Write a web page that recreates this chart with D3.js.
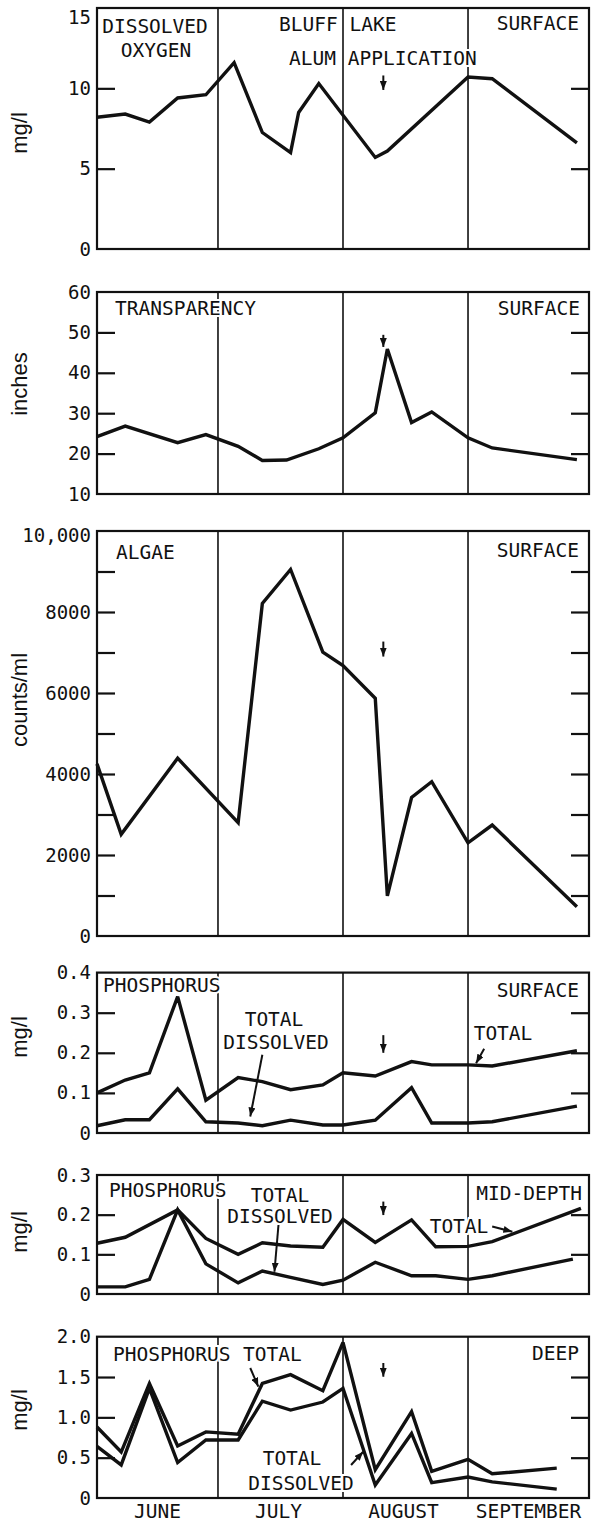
<!DOCTYPE html>
<html><head><meta charset="utf-8">
<script src="https://cdn.jsdelivr.net/npm/d3@7"></script>
<style>body{margin:0;background:#fff}</style>
</head><body>
<svg id="c" width="591" height="1524"></svg>
<script>
// ---------------- DATA ----------------
const months = ["JUNE", "JULY", "AUGUST", "SEPTEMBER"];
const monthMid = ["Jun 16", "Jul 16", "Aug 16", "Sep 16"];
const monthStarts = ["Jul 1", "Aug 1", "Sep 1"];
const alumDate = "Aug 11";

// Dissolved oxygen, surface (mg/l)
const doDates  = ["Jun 1","Jun 8","Jun 14","Jun 21","Jun 28","Jul 5","Jul 12","Jul 19","Jul 21","Jul 26","Aug 9","Aug 12","Sep 1","Sep 7","Sep 28"];
const doValues = [8.2, 8.4, 7.9, 9.4, 9.6, 11.6, 7.25, 6.0, 8.5, 10.3, 5.7, 6.1, 10.7, 10.6, 6.6];

// Transparency, surface (inches)
const trDates  = ["Jun 1","Jun 8","Jun 21","Jun 28","Jul 6","Jul 12","Jul 18","Jul 26","Aug 1","Aug 9","Aug 12","Aug 18","Aug 23","Sep 1","Sep 7","Sep 28"];
const trValues = [24.2, 26.8, 22.7, 24.7, 21.8, 18.3, 18.4, 21.2, 23.9, 30.1, 45.9, 27.7, 30.3, 23.9, 21.4, 18.5];

// Algae, surface (counts/ml)
const alDates  = ["Jun 1","Jun 7","Jun 21","Jul 6","Jul 12","Jul 19","Jul 27","Aug 1","Aug 9","Aug 12","Aug 18","Aug 23","Sep 1","Sep 7","Sep 28"];
const alValues = [4250, 2510, 4390, 2800, 8210, 9050, 7010, 6680, 5870, 990, 3420, 3810, 2300, 2740, 720];

// Phosphorus, surface (mg/l)
const psDates     = ["Jun 1","Jun 8","Jun 14","Jun 21","Jun 28","Jul 6","Jul 12","Jul 19","Jul 27","Aug 1","Aug 9","Aug 18","Aug 23","Sep 1","Sep 7","Sep 28"];
const psTotal     = [0.100, 0.132, 0.150, 0.340, 0.082, 0.138, 0.128, 0.108, 0.120, 0.150, 0.142, 0.178, 0.170, 0.170, 0.167, 0.205];
const psDissolved = [0.018, 0.033, 0.033, 0.110, 0.028, 0.025, 0.018, 0.032, 0.020, 0.020, 0.032, 0.113, 0.025, 0.025, 0.028, 0.067];

// Phosphorus, mid-depth (mg/l)
const pmTotalDates = ["Jun 1","Jun 8","Jun 21","Jun 28","Jul 6","Jul 12","Jul 19","Jul 27","Aug 1","Aug 9","Aug 18","Aug 24","Sep 1","Sep 7","Sep 29"];
const pmTotal      = [0.128, 0.143, 0.212, 0.140, 0.100, 0.129, 0.121, 0.118, 0.188, 0.130, 0.187, 0.119, 0.120, 0.132, 0.216];
const pmDissDates  = ["Jun 1","Jun 8","Jun 14","Jun 21","Jun 28","Jul 6","Jul 12","Jul 19","Jul 27","Aug 1","Aug 9","Aug 18","Aug 24","Sep 1","Sep 7","Sep 27"];
const pmDissolved  = [0.018, 0.018, 0.037, 0.212, 0.076, 0.028, 0.058, 0.042, 0.024, 0.035, 0.080, 0.046, 0.046, 0.037, 0.046, 0.088];

// Phosphorus, deep (mg/l)
const pdDates     = ["Jun 1","Jun 7","Jun 14","Jun 21","Jun 28","Jul 6","Jul 12","Jul 19","Jul 27","Aug 1","Aug 9","Aug 18","Aug 23","Sep 1","Sep 7","Sep 23"];
const pdTotal     = [0.88, 0.57, 1.42, 0.645, 0.82, 0.79, 1.42, 1.53, 1.33, 1.93, 0.35, 1.07, 0.33, 0.48, 0.30, 0.37];
const pdDissolved = [0.64, 0.41, 1.36, 0.44, 0.72, 0.72, 1.20, 1.09, 1.19, 1.36, 0.16, 0.80, 0.19, 0.26, 0.20, 0.11];

// Tick values
const p1Labels = [0, 5, 10, 15],               p1Inner = [5, 10];
const p2Labels = [10, 20, 30, 40, 50, 60],     p2Inner = [20, 30, 40, 50];
const p3Labels = [0, 2000, 4000, 6000, 8000, 10000], p3Inner = [1000,2000,3000,4000,5000,6000,7000,8000,9000];
const p4Labels = [0, 0.1, 0.2, 0.3, 0.4],      p4Inner = [0.1, 0.2, 0.3];
const p5Labels = [0, 0.1, 0.2, 0.3],           p5Inner = [0.1, 0.2];
const p6Labels = [0, 0.5, 1.0, 1.5, 2.0],      p6Inner = [0.5, 1.0, 1.5];

// ---------------- LAYOUT ----------------
const parse = d3.timeParse("%b %d");
const X0 = 97, X1 = 589;
const x = d3.scaleTime().domain([parse("Jun 1"), parse("Oct 1")]).range([X0, X1]);
const intFmt = d => d >= 10000 ? d3.format(",")(d) : String(d);
const decFmt = d => d === 0 ? "0" : d3.format(".1f")(d);
const zip = (ds, vs) => ds.map((d, i) => ({date: parse(d), v: vs[i]}));

const panels = [
  {top: 8, bottom: 249, domain: [0, 15], labels: p1Labels, inner: p1Inner, fmt: intFmt, topShift: 9,
   title: "mg/l", titleY: 133, series: [zip(doDates, doValues)], alum: [10.8, 9.9],
   texts: [["DISSOLVED", 155, 33, "middle"], ["OXYGEN", 156, 57, "middle"], ["BLUFF LAKE", 279, 31, "start"],
           ["ALUM APPLICATION", 289, 65, "start"], ["SURFACE", 579, 30, "end"]], arrows: []},
  {top: 292, bottom: 494, domain: [10, 60], labels: p2Labels, inner: p2Inner, fmt: intFmt, topShift: 0,
   title: "inches", titleY: 384, series: [zip(trDates, trValues)], alum: [49.4, 46.4],
   texts: [["TRANSPARENCY", 115, 315, "start"], ["SURFACE", 580, 315, "end"]], arrows: []},
  {top: 531, bottom: 936, domain: [0, 10000], labels: p3Labels, inner: p3Inner, fmt: intFmt, topShift: 4,
   title: "counts/ml", titleY: 700, series: [zip(alDates, alValues)], alum: [7270, 6900],
   texts: [["ALGAE", 116, 559, "start"], ["SURFACE", 579, 557, "end"]], arrows: []},
  {top: 972.6, bottom: 1133, domain: [0, 0.4], labels: p4Labels, inner: p4Inner, fmt: decFmt, topShift: 0,
   title: "mg/l", titleY: 1037, series: [zip(psDates, psTotal), zip(psDates, psDissolved)], alum: [0.244, 0.200],
   texts: [["PHOSPHORUS", 103, 992, "start"], ["SURFACE", 579, 997, "end"], ["TOTAL", 274, 1026, "middle"],
           ["DISSOLVED", 276, 1049, "middle"], ["TOTAL", 503, 1040, "middle"]],
   arrows: [["Jul 12", 0.195, "Jul 9", 0.041], ["Sep 5", 0.21, "Sep 3", 0.174]]},
  {top: 1175, bottom: 1294, domain: [0, 0.3], labels: p5Labels, inner: p5Inner, fmt: decFmt, topShift: 0,
   title: "mg/l", titleY: 1232, series: [zip(pmTotalDates, pmTotal), zip(pmDissDates, pmDissolved)], alum: [0.233, 0.199],
   texts: [["PHOSPHORUS", 109, 1197, "start"], ["TOTAL", 280, 1202, "middle"], ["DISSOLVED", 280, 1222.5, "middle"],
           ["TOTAL", 459, 1233, "middle"], ["MID-DEPTH", 582, 1200, "end"]],
   arrows: [["Jul 16", 0.174, "Jul 15", 0.056], ["Sep 7", 0.170, "Sep 12", 0.157]]},
  {top: 1336.7, bottom: 1498, domain: [0, 2.0], labels: p6Labels, inner: p6Inner, fmt: decFmt, topShift: 0,
   title: "mg/l", titleY: 1410, series: [zip(pdDates, pdTotal), zip(pdDates, pdDissolved)], alum: [1.674, 1.504],
   texts: [["PHOSPHORUS", 113, 1361, "start"], ["TOTAL", 243, 1361, "start"], ["TOTAL", 292, 1465, "middle"],
           ["DISSOLVED", 301, 1490, "middle"], ["DEEP", 579, 1360, "end"]],
   arrows: [["Jul 9", 1.612, "Jul 11", 1.38], ["Aug 3", 0.409, "Aug 6", 0.574]]}
];

// ---------------- DRAW ----------------
const INK = "#111";
const MONO = "'DejaVu Sans Mono', 'Liberation Mono', monospace";
const svg = d3.select("#c");
svg.append("rect").attr("width", 591).attr("height", 1524).attr("fill", "#fff");
svg.append("defs").append("marker").attr("id", "ah")
  .attr("viewBox", "0 0 10 10").attr("refX", 10).attr("refY", 5)
  .attr("markerWidth", 9).attr("markerHeight", 7).attr("markerUnits", "userSpaceOnUse")
  .attr("preserveAspectRatio", "none").attr("orient", "auto")
  .append("path").attr("d", "M0,0L10,5L0,10Z").attr("fill", INK);

panels.forEach(p => {
  const y = d3.scaleLinear().domain(p.domain).range([p.bottom, p.top]);
  const g = svg.append("g");

  // month dividers
  g.selectAll("line.div").data(monthStarts).join("line").attr("class", "div")
    .attr("x1", d => x(parse(d))).attr("x2", d => x(parse(d)))
    .attr("y1", p.top).attr("y2", p.bottom)
    .attr("stroke", INK).attr("stroke-width", 1.6);

  // annotation texts (white halo breaks the dividers like the original)
  g.selectAll("text.ann").data(p.texts).join("text").attr("class", "ann")
    .attr("x", d => d[1]).attr("y", d => d[2]).attr("text-anchor", d => d[3])
    .attr("font-family", MONO).attr("font-size", 19.5).attr("fill", INK)
    .attr("stroke", "#fff").attr("stroke-width", 4).attr("paint-order", "stroke")
    .text(d => d[0]);

  // tick labels
  const lab = g.append("g").attr("transform", `translate(${X0},0)`)
    .call(d3.axisLeft(y).tickValues(p.labels).tickSize(0).tickPadding(6).tickFormat(p.fmt))
    .call(s => s.select(".domain").remove())
    .attr("font-family", MONO).attr("font-size", 19).attr("color", INK);
  const topVal = p.domain[1];
  lab.selectAll(".tick").filter(d => d === topVal).select("text")
    .attr("transform", `translate(0,${p.topShift})`);

  // inward ticks on both sides
  g.append("g").attr("transform", `translate(${X0},0)`)
    .call(d3.axisRight(y).tickValues(p.inner).tickSize(18).tickFormat(""))
    .call(s => s.select(".domain").remove())
    .attr("color", INK).selectAll("line").attr("stroke-width", 2.2);
  g.append("g").attr("transform", `translate(${X1},0)`)
    .call(d3.axisLeft(y).tickValues(p.inner).tickSize(18).tickFormat(""))
    .call(s => s.select(".domain").remove())
    .attr("color", INK).selectAll("line").attr("stroke-width", 2.2);

  // frame
  g.append("rect").attr("x", X0).attr("y", p.top).attr("width", X1 - X0).attr("height", p.bottom - p.top)
    .attr("fill", "none").attr("stroke", INK).attr("stroke-width", 2.2);

  // y title
  g.append("text").attr("transform", `translate(27,${p.titleY}) rotate(-90)`)
    .attr("text-anchor", "middle").attr("font-family", "'Liberation Sans', Arial, sans-serif")
    .attr("font-size", 22).attr("fill", INK).text(p.title);

  // data lines
  const line = d3.line().x(d => x(d.date)).y(d => y(d.v));
  g.selectAll("path.ser").data(p.series).join("path").attr("class", "ser")
    .attr("d", line).attr("fill", "none").attr("stroke", INK)
    .attr("stroke-width", 3.4).attr("stroke-linejoin", "miter").attr("stroke-miterlimit", 3);

  // alum application arrow
  g.append("line")
    .attr("x1", x(parse(alumDate))).attr("x2", x(parse(alumDate)))
    .attr("y1", y(p.alum[0])).attr("y2", y(p.alum[1]))
    .attr("stroke", INK).attr("stroke-width", 2).attr("marker-end", "url(#ah)");

  // leader arrows
  g.selectAll("line.lead").data(p.arrows).join("line").attr("class", "lead")
    .attr("x1", d => x(parse(d[0]))).attr("y1", d => y(d[1]))
    .attr("x2", d => x(parse(d[2]))).attr("y2", d => y(d[3]))
    .attr("stroke", INK).attr("stroke-width", 2).attr("marker-end", "url(#ah)");
});

// month labels
svg.selectAll("text.month").data(months).join("text").attr("class", "month")
  .attr("x", (d, i) => x(parse(monthMid[i]))).attr("y", 1518)
  .attr("text-anchor", "middle").attr("font-family", MONO).attr("font-size", 19.5).attr("fill", INK)
  .text(d => d);
</script>
</body></html>
